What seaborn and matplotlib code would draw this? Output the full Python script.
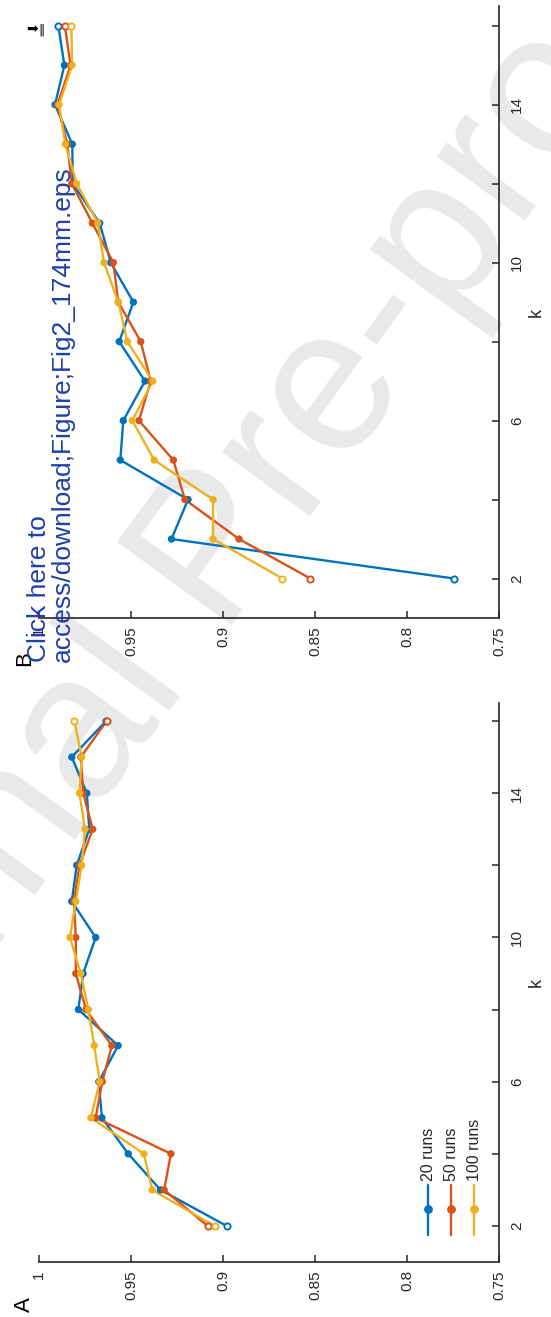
import matplotlib
matplotlib.use("Agg")
import matplotlib.pyplot as plt
import numpy as np
import pandas as pd
import seaborn as sns

# ---------------- data ----------------
k_values = list(range(2, 17))
series_labels = ["20 runs", "50 runs", "100 runs"]

# Panel A
a_20 = [0.898, 0.934, 0.9515, 0.9658, 0.9675, 0.957, 0.9786, 0.976, 0.9692,
        0.9822, 0.9795, 0.9727, 0.974, 0.9822, 0.9635]
a_50 = [0.9084, 0.932, 0.9283, 0.9692, 0.9656, 0.9604, 0.9745, 0.980, 0.980,
        0.981, 0.978, 0.9708, 0.976, 0.9773, 0.9632]
a_100 = [0.9046, 0.9385, 0.943, 0.9718, 0.967, 0.970, 0.9732, 0.9773, 0.9832,
         0.980, 0.9768, 0.975, 0.978, 0.9768, 0.9808]

# Panel B
b_20 = [0.7745, 0.928, 0.919, 0.9558, 0.9542, 0.9424, 0.9564, 0.9487, 0.961,
        0.967, 0.9817, 0.9819, 0.9913, 0.9862, 0.9895]
b_50 = [0.8525, 0.8913, 0.9207, 0.927, 0.9457, 0.9393, 0.9447, 0.9569, 0.9596,
        0.971, 0.9822, 0.9846, 0.990, 0.9828, 0.986]
b_100 = [0.8677, 0.9054, 0.9054, 0.9374, 0.9493, 0.9382, 0.952, 0.9569, 0.9647,
         0.968, 0.9795, 0.9857, 0.9891, 0.982, 0.9824]

value_ticks = [1.0, 0.95, 0.9, 0.85, 0.8, 0.75]
value_tick_labels = ["1", "0.95", "0.9", "0.85", "0.8", "0.75"]
k_ticks = [2, 4, 6, 8, 10, 12, 14, 16]
k_tick_labels = ["2", "", "6", "", "10", "", "14", ""]

colors = ["#0072BD", "#D95319", "#EDB120"]

# ---------------- style ----------------
sns.set_theme(style="white")
plt.rcParams["font.family"] = ["Liberation Sans", "DejaVu Sans"]

W, H = 551, 1317
fig = plt.figure(figsize=(W / 100, H / 100), dpi=100)


def px_axes(left, top, right, bottom):
    return fig.add_axes([left / W, 1 - bottom / H, (right - left) / W, (bottom - top) / H])


axB = px_axes(39, 6, 499, 618)
axA = px_axes(39, 703, 499, 1262)

spine_color = "#262626"


def make_df(s20, s50, s100):
    rows = []
    for lab, vals in zip(series_labels, [s20, s50, s100]):
        for k, v in zip(k_values, vals):
            rows.append({"k": k, "value": v, "series": lab})
    return pd.DataFrame(rows)


def draw_panel(ax, df):
    ax.set_facecolor("none")
    sns.lineplot(data=df, x="value", y="k", hue="series", palette=colors,
                 hue_order=series_labels, orient="y", sort=True, linewidth=1.7,
                 legend=False, ax=ax, zorder=3)
    inner = df[(df["k"] > min(k_values)) & (df["k"] < max(k_values))]
    ends = df[(df["k"] == min(k_values)) | (df["k"] == max(k_values))]
    sns.scatterplot(data=inner, x="value", y="k", hue="series", palette=colors,
                    hue_order=series_labels, s=28, linewidth=0, legend=False,
                    ax=ax, zorder=4)
    for lab, c in zip(series_labels, colors):
        e = ends[ends["series"] == lab]
        ax.scatter(e["value"], e["k"], s=20, facecolor="white", edgecolor=c,
                   linewidth=1.4, zorder=5)
    ax.set_xlim(1.0, 0.75)
    ax.set_ylim(1, 16.5)
    for side in ["left", "top"]:
        ax.spines[side].set_visible(False)
    for side in ["right", "bottom"]:
        ax.spines[side].set_visible(True)
        ax.spines[side].set_color(spine_color)
        ax.spines[side].set_linewidth(1.2)
    ax.yaxis.tick_right()
    ax.yaxis.set_label_position("right")
    ax.set_xticks(value_ticks)
    ax.set_xticklabels(value_tick_labels, rotation=90, ha="center", va="top",
                       fontsize=11, color="#262626")
    ax.set_yticks(k_ticks)
    ax.set_yticklabels(k_tick_labels, rotation=90, ha="left", va="center",
                       fontsize=11, color="#262626")
    ax.tick_params(axis="x", direction="in", length=5, width=1.1,
                   color=spine_color, pad=6, bottom=True)
    ax.tick_params(axis="y", direction="in", length=5, width=1.1,
                   color=spine_color, pad=8, right=True, left=False)
    ax.set_xlabel("")
    ax.set_ylabel("k", rotation=90, fontsize=13, labelpad=9, color="#262626",
                  va="center")
    ax.grid(False)


draw_panel(axB, make_df(b_20, b_50, b_100))
draw_panel(axA, make_df(a_20, a_50, a_100))

# manual legend in panel A (rotated layout)
leg_x = [0.846, 0.896, 0.946]
for lab, c, lx in zip(series_labels, colors, leg_x):
    axA.plot([lx, lx], [0.048, 0.138], color=c, lw=1.7,
             transform=axA.transAxes, zorder=6)
    axA.scatter([lx], [0.095], s=28, color=c, transform=axA.transAxes, zorder=7)
    axA.text(lx, 0.145, lab, rotation=90, ha="center", va="bottom",
             fontsize=11.5, color="#262626", transform=axA.transAxes)

# panel labels
fig.text(14 / W, 1 - 1312 / H, "A", rotation=90, ha="left", va="bottom",
         fontsize=16, color="black")
fig.text(14 / W, 1 - 666 / H, "B", rotation=90, ha="left", va="bottom",
         fontsize=16, color="black")

# download note
fig.text(27 / W, 1 - 662 / H,
         "Click here to\naccess/download;Figure;Fig2_174mm.eps",
         rotation=90, ha="left", va="bottom", multialignment="left",
         fontsize=19, color="#1f3fa8", linespacing=1.0, zorder=10)
fig.text(26 / W, 1 - 36 / H, "\u27a1", ha="left", va="bottom",
         fontsize=10, color="black", family="DejaVu Sans")
fig.text(38 / W, 1 - 36 / H, "\u2016", ha="left", va="bottom",
         fontsize=9, color="black", family="DejaVu Sans")

# watermark
fig.text(216 / W, 1 - 556 / H, "Journal Pre-proof", rotation=54,
         ha="center", va="center", fontsize=148, color="#e9e9e9",
         zorder=-10)

fig.savefig("out.png", dpi=100)
